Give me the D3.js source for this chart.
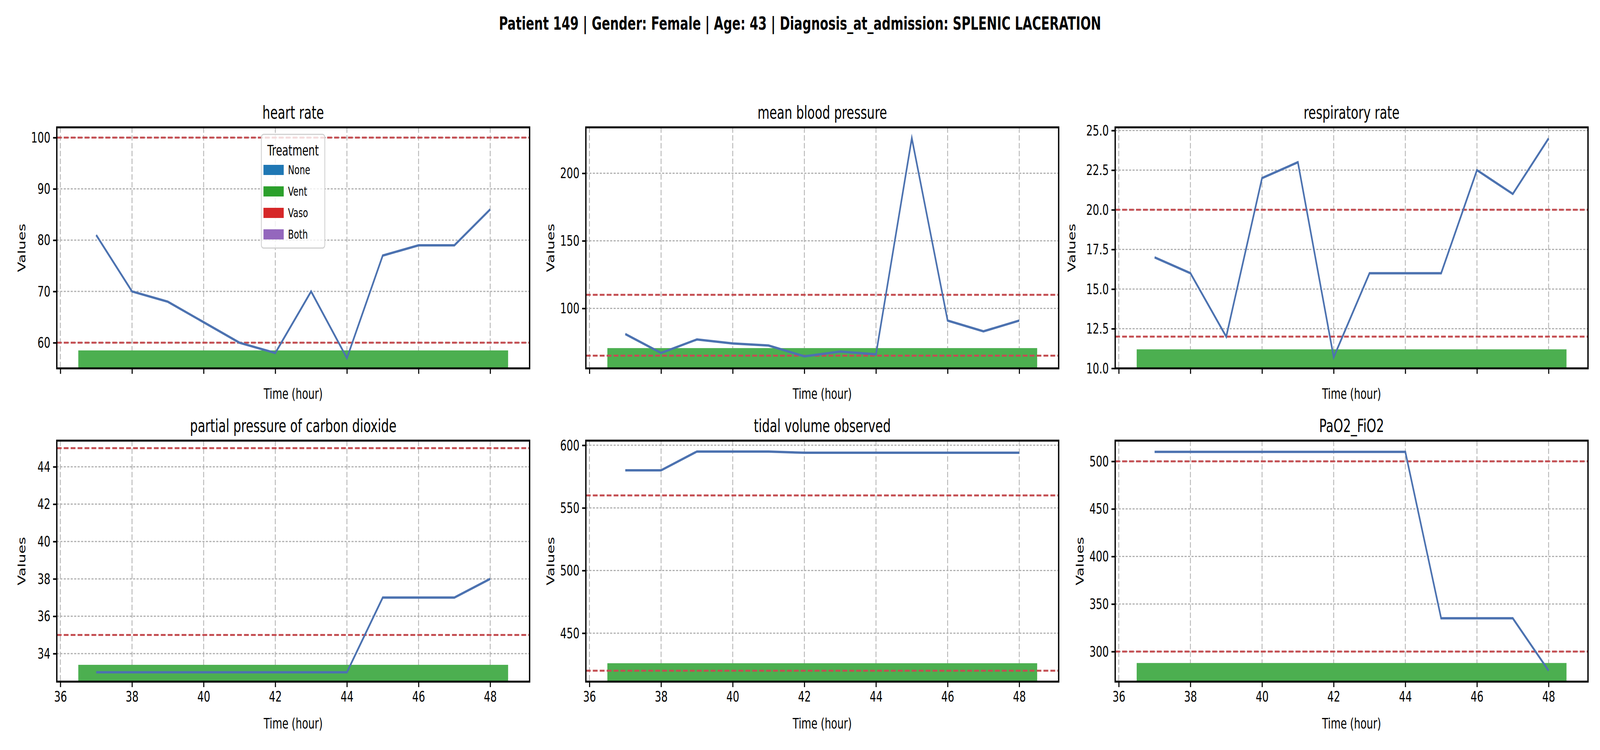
<!DOCTYPE html>
<html>
<head>
<meta charset="utf-8">
<script src="https://cdn.jsdelivr.net/npm/d3@7"></script>
<style>
  html, body { margin: 0; padding: 0; background: #fff; overflow: hidden; }
  svg { font-family: "DejaVu Sans", sans-serif; display: block; width: 100vw; height: 100vh; }
</style>
</head>
<body>
<svg id="chart" viewBox="0 0 6000 1920" preserveAspectRatio="none"></svg>
<script>
// data
const hours = [37, 38, 39, 40, 41, 42, 43, 44, 45, 46, 47, 48];
const titles = ['heart rate', 'mean blood pressure', 'respiratory rate',
  'partial pressure of carbon dioxide', 'tidal volume observed', 'PaO2_FiO2'];
const heartRate = [81, 70, 68, 64, 60, 58, 70, 57, 77, 79, 79, 86];
const meanBp = [81, 67, 77, 74, 72.5, 64.5, 68, 66, 226, 91, 83, 91];
const respRate = [17, 16, 12, 22, 23, 10.7, 16, 16, 16, 22.5, 21, 24.5];
const paco2 = [33, 33, 33, 33, 33, 33, 33, 33, 37, 37, 37, 38];
const tidalVol = [580, 580, 595, 595, 595, 594, 594, 594, 594, 594, 594, 594];
const pao2Fio2 = [510, 510, 510, 510, 510, 510, 510, 510, 335, 335, 335, 280];
const seriesValues = [heartRate, meanBp, respRate, paco2, tidalVol, pao2Fio2];
const yLimits = [[55, 102], [55.6, 234], [10, 25.2], [32.5, 45.4], [411.3, 603.7], [268.4, 521.8]];
const yTicks = [[60, 70, 80, 90, 100], [100, 150, 200], [10, 12.5, 15, 17.5, 20, 22.5, 25],
  [34, 36, 38, 40, 42, 44], [450, 500, 550, 600], [300, 350, 400, 450, 500]];
const thresholds = [[60, 100], [65, 110], [12, 20], [35, 45], [420, 560], [300, 500]];
const ventBarTop = [58.5, 70.6, 11.2, 33.4, 426, 288];
const ventSpan = [36.5, 48.5];
const xTicks = [36, 38, 40, 42, 44, 46, 48];
const legendLabels = ['None', 'Vent', 'Vaso', 'Both'];
const legendColors = ['#1f77b4', '#2ca02c', '#d62728', '#9467bd'];

const svg = d3.select('#chart');

svg.append('text')
  .attr('x', 3000).attr('y', 76)
  .attr('text-anchor', 'middle')
  .attr('font-size', 46).attr('font-weight', 'bold')
  .text('Patient 149 | Gender: Female | Age: 43 | Diagnosis_at_admission: SPLENIC LACERATION');

const colLeft = [213, 2197, 4182];
const rowTop = [326, 1128];
const pw = 1773, ph = 617;

titles.forEach(function(title, i) {
  const row = Math.floor(i / 3), col = i % 3;
  const g = svg.append('g')
    .attr('transform', `translate(${colLeft[col]},${rowTop[row]})`);

  const x = d3.scaleLinear().domain([35.9, 49.1]).range([0, pw]);
  const y = d3.scaleLinear().domain(yLimits[i]).range([ph, 0]);

  // Grid
  g.append('g').selectAll('line').data(xTicks).join('line')
    .attr('x1', d => x(d)).attr('x2', d => x(d))
    .attr('y1', 0).attr('y2', ph)
    .attr('stroke', '#b0b0b0').attr('stroke-width', 3)
    .attr('stroke-dasharray', '14,6');
  g.append('g').selectAll('line').data(yTicks[i]).join('line')
    .attr('x1', 0).attr('x2', pw)
    .attr('y1', d => y(d)).attr('y2', d => y(d))
    .attr('stroke', '#b0b0b0').attr('stroke-width', 3)
    .attr('stroke-dasharray', '8,5');

  // Ventilation bar
  g.append('rect')
    .attr('x', x(ventSpan[0])).attr('width', x(ventSpan[1]) - x(ventSpan[0]))
    .attr('y', y(ventBarTop[i])).attr('height', ph - y(ventBarTop[i]))
    .attr('fill', '#4caf50');

  // Thresholds
  g.append('g').selectAll('line').data(thresholds[i]).join('line')
    .attr('x1', 0).attr('x2', pw)
    .attr('y1', d => y(d)).attr('y2', d => y(d))
    .attr('stroke', '#c44e52').attr('stroke-width', 5)
    .attr('stroke-dasharray', '18,8');

  // Series
  const line = d3.line().x((d, j) => x(hours[j])).y(d => y(d));
  g.append('path')
    .datum(seriesValues[i])
    .attr('d', line)
    .attr('fill', 'none')
    .attr('stroke', '#4c72b0')
    .attr('stroke-width', 6);

  // Spines
  g.append('rect')
    .attr('width', pw).attr('height', ph)
    .attr('fill', 'none').attr('stroke', '#000').attr('stroke-width', 5);

  // Axes
  const xAxis = d3.axisBottom(x).tickValues(xTicks).tickSize(14).tickPadding(10)
    .tickFormat(row === 1 ? d3.format('d') : () => '');
  const yFmt = i === 2 ? d3.format('.1f') : d3.format('d');
  const yAxis = d3.axisLeft(y).tickValues(yTicks[i]).tickSize(14).tickPadding(10).tickFormat(yFmt);
  const ax = g.append('g').attr('transform', `translate(0,${ph})`).call(xAxis);
  const ay = g.append('g').call(yAxis);
  [ax, ay].forEach(a => {
    a.select('.domain').remove();
    a.selectAll('line').attr('stroke', '#000').attr('stroke-width', 4);
    a.selectAll('text').attr('font-size', 38).attr('fill', '#000')
      .attr('font-family', '"DejaVu Sans", sans-serif');
  });

  g.append('text')
    .attr('x', pw / 2).attr('y', -22)
    .attr('text-anchor', 'middle').attr('font-size', 46)
    .text(title);
  g.append('text')
    .attr('x', pw / 2).attr('y', ph + (row === 1 ? 120 : 78))
    .attr('text-anchor', 'middle').attr('font-size', 38)
    .text('Time (hour)');
  const lblX = i === 2 ? -150 : -118;
  g.append('text')
    .attr('transform', `translate(${lblX},${ph / 2}) rotate(-90)`)
    .attr('text-anchor', 'middle').attr('font-size', 38)
    .text('Values');

  // Legend
  if (i === 0) {
    const lg = g.append('g').attr('transform', `translate(${980 - colLeft[0]},${344 - rowTop[0]})`);
    lg.append('rect')
      .attr('width', 238).attr('height', 291).attr('rx', 8)
      .attr('fill', 'rgba(255,255,255,0.8)').attr('stroke', '#d0d0d0').attr('stroke-width', 3);
    lg.append('text').attr('x', 119).attr('y', 54)
      .attr('text-anchor', 'middle').attr('font-size', 38).text('Treatment');
    const rows = lg.selectAll('g.item').data(legendLabels).join('g')
      .attr('class', 'item')
      .attr('transform', (d, k) => `translate(8,${78 + k * 55})`);
    rows.append('rect').attr('width', 76).attr('height', 26)
      .attr('fill', (d, k) => legendColors[k]);
    rows.append('text').attr('x', 92).attr('y', 24)
      .attr('font-size', 32).text(d => d);
  }
});
</script>
</body>
</html>
